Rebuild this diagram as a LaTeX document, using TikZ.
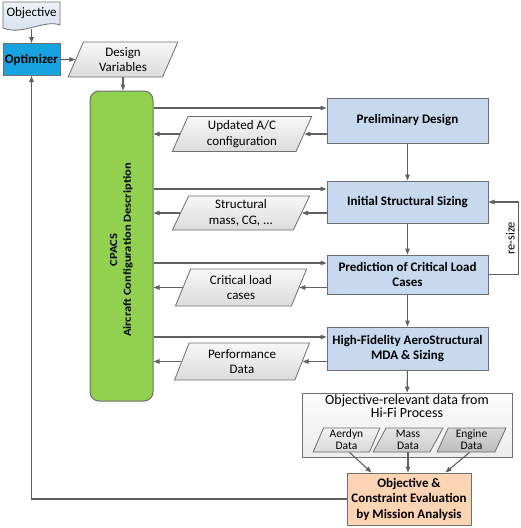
\documentclass[tikz,border=0pt]{standalone}
\usepackage{fontspec}
\setmainfont{Carlito}
\usetikzlibrary{shapes.geometric,arrows.meta}
\definecolor{linegray}{HTML}{606060}
\definecolor{bordergray}{HTML}{6E6E6E}
\definecolor{procblue}{HTML}{C6D9EE}
\definecolor{optblue}{HTML}{17A3DF}
\definecolor{cpgreen}{HTML}{92D050}
\definecolor{evalpeach}{HTML}{FBD4B4}
\definecolor{docblue}{HTML}{D3DFEE}
\begin{document}
\begin{tikzpicture}[x=1pt,y=-1pt,
    arr/.style={draw=linegray, line width=1.1pt, -{Triangle[length=6pt,width=4.5pt]}},
    procbox/.style={draw=bordergray, line width=1pt, fill=procblue, minimum width=161pt,
        align=center, font=\fontsize{13}{15.5}\selectfont\bfseries},
    databox/.style={trapezium, trapezium left angle=70, trapezium right angle=110,
        trapezium stretches=true, draw=bordergray, line width=0.8pt, top color=gray!6,
        bottom color=gray!28, align=center, inner sep=1pt,
        font=\fontsize{13}{15.5}\selectfont},
    subbox/.style={databox, minimum height=24pt, font=\fontsize{11.5}{12}\selectfont}]
    \useasboundingbox (0,0) rectangle (520,528);

    % Optimizer loop
    \draw[draw=bordergray, line width=0.8pt, top color=docblue!40, bottom color=docblue]
        (3,2) -- (60,2) -- (60,25) .. controls (45,19) and (22,36) .. (3,28) -- cycle;
    \node[font=\fontsize{13}{15}\selectfont] (obj) at (31.5,13) {Objective};
    \node[draw=bordergray, line width=1pt, fill=optblue, minimum width=57pt, minimum height=32pt,
        inner sep=1pt, font=\fontsize{13}{15}\selectfont\bfseries] (opt) at (31.5,59.5) {Optimizer};
    \node[databox, minimum width=110pt, minimum height=35pt] (dv) at (123,59.5) {Design\\Variables};
    \draw[arr] (obj.south |- 0,29) -- (opt.north);
    \draw[arr] (opt.east) -- (dv.west);

    % CPACS
    \node[draw=bordergray, line width=1pt, fill=cpgreen, rounded corners=9pt,
        minimum width=63pt, minimum height=310pt] (cpacs) at (121.5,246) {};
    \node[rotate=90, yscale=0.86, align=center, font=\fontsize{12.5}{16}\selectfont\bfseries] (cpacstext)
        at ([yshift=-4pt]cpacs.center) {CPACS\\Aircraft Configuration Description};
    \draw[arr] (dv.south) -- (dv.south |- cpacs.north);

    % Process chain
    \node[procbox, minimum height=45pt] (prelim) at (407.5,120.5) {Preliminary Design};
    \node[procbox, minimum height=42pt] (init) at (407.5,202) {Initial Structural Sizing};
    \node[procbox, minimum height=39pt] (pred) at (407.5,274.5) {Prediction of Critical Load\\Cases};
    \node[procbox, minimum height=43pt] (hifi) at (407.5,348.5) {High-Fidelity AeroStructural\\MDA \& Sizing};

    \node[databox, minimum width=140pt, minimum height=35pt] (upd) at (242,134) {Updated A/C\\configuration};
    \node[databox, minimum width=138pt, minimum height=34pt] (struct) at (241,213) {Structural\\mass, CG, ...};
    \node[databox, minimum width=132pt, minimum height=37pt] (crit) at (241,287.5) {Critical load\\cases};
    \node[databox, minimum width=135pt, minimum height=37pt] (perf) at (242,361.5) {Performance\\Data};

    \foreach \proc/\data/\fy in {prelim/upd/108, init/struct/189, pred/crit/263, hifi/perf/337} {
        \draw[arr] (cpacs.east |- 0,\fy) -- (\proc.west |- 0,\fy);
        \draw[arr] (\proc.west |- \data.east) -- (\data.east);
        \draw[arr] (\data.west) -- (cpacs.east |- \data.west);
    }
    \draw[arr] (prelim) -- (init);
    \draw[arr] (init) -- (pred);
    \draw[arr] (pred) -- (hifi);
    \draw[arr] (pred.east) -- ++(30,0) |- (init.east)
        node[pos=0.25, rotate=90, anchor=south, font=\fontsize{12.5}{14}\selectfont] (resize) {re-size};

    % Hi-Fi data
    \node[draw=bordergray, line width=0.8pt, top color=gray!3, bottom color=gray!14,
        minimum width=210pt, minimum height=64pt] (rel) at (407,425) {};
    \node[align=center, font=\fontsize{14}{11.5}\selectfont] (reltitle) at (407,406)
        {Objective-relevant data from\\Hi-Fi Process};
    \node[subbox, minimum width=67pt, top color=gray!10, bottom color=gray!30] (aer) at (346.5,440) {Aerdyn\\Data};
    \node[subbox, minimum width=70pt, top color=gray!20, bottom color=gray!40] (mass) at (408,440) {Mass\\Data};
    \node[subbox, minimum width=69pt, top color=gray!30, bottom color=gray!52] (eng) at (471.5,440) {Engine\\Data};
    \draw[arr] (hifi) -- (rel);

    \node[draw=bordergray, line width=1pt, fill=evalpeach, minimum width=124pt, minimum height=52pt,
        inner sep=1pt, align=center, font=\fontsize{13}{15.5}\selectfont\bfseries] (eval) at (409,499)
        {Objective \&\\Constraint Evaluation\\by Mission Analysis};
    \draw[arr] ([xshift=3pt]aer.south) -- ([xshift=25pt]eval.north west);
    \draw[arr] (mass.south) -- (mass.south |- eval.north);
    \draw[arr] ([xshift=-2pt]eng.south) -- ([xshift=-26pt]eval.north east);
    \draw[arr] (eval.west) -- (eval.west -| opt.south) -- (opt.south);
\end{tikzpicture}
\end{document}
